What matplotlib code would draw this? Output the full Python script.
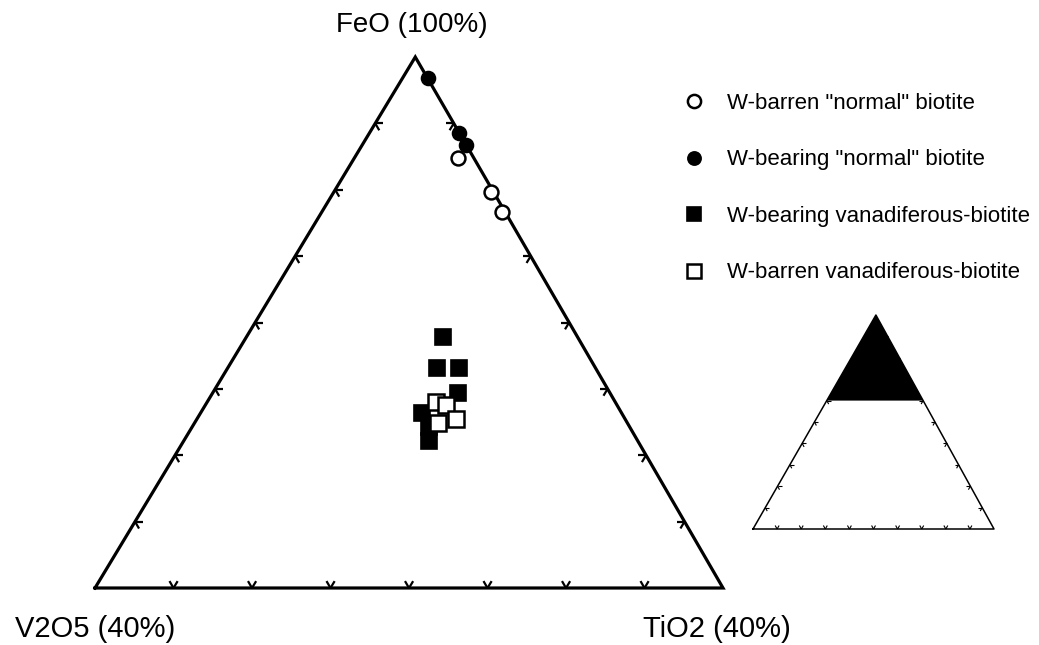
import matplotlib
matplotlib.use("Agg")
import matplotlib.pyplot as plt
import numpy as np

plt.rcParams['font.family'] = ['Liberation Sans', 'DejaVu Sans']

# compositions (wt%)
# W-barren "normal" biotite
feo_barren_norm = [92.4, 89.8, 88.3]
tio2_barren_norm = [6.6, 10.0, 11.5]
v2o5_barren_norm = [1.0, 0.2, 0.2]
# W-bearing "normal" biotite
feo_bearing_norm = [98.4, 94.3, 93.4]
tio2_bearing_norm = [1.6, 5.7, 6.6]
v2o5_bearing_norm = [0.0, 0.0, 0.0]
# W-bearing vanadiferous biotite
feo_bearing_vbio = [78.9, 76.6, 76.6, 74.7, 73.2, 72.1, 71.1]
tio2_bearing_vbio = [12.5, 13.3, 14.7, 15.6, 14.1, 15.1, 15.6]
v2o5_bearing_vbio = [8.6, 10.1, 8.7, 9.7, 12.7, 12.8, 13.3]
# W-barren vanadiferous biotite
feo_barren_vbio = [74.0, 73.8, 72.4, 72.7]
tio2_barren_vbio = [14.6, 15.3, 15.5, 16.5]
v2o5_barren_vbio = [11.4, 10.9, 12.1, 10.8]

feo_min = 60.0   # main diagram shows FeO 60-100 %
apex_x = 0.51    # apex is slightly right of centre in the original


def to_xy(feo, tio2, v2o5):
    feo, tio2, v2o5 = map(np.asarray, (feo, tio2, v2o5))
    tot = feo + tio2 + v2o5
    span = 100.0 - feo_min
    f = (100 * feo / tot - feo_min) / span
    t = (100 * tio2 / tot) / span
    return t + apex_x * f, f


def draw_ticks(ax, n, length, lw):
    L, R, A = np.array([0., 0.]), np.array([1., 0.]), np.array([apex_x, 1.])
    to_disp = ax.transData.transform
    to_data = ax.transData.inverted().transform

    def unit(p, q):
        d = to_disp(q) - to_disp(p)
        return d / np.hypot(*d)

    edges = [
        (L, R, unit(L, A), unit(R, A)),
        (L, A, unit(L, R), unit(A, R)),
        (R, A, unit(R, L), unit(A, L)),
    ]
    for p0, p1, d1, d2 in edges:
        for k in range(1, n):
            p = to_disp(p0 + k / n * (p1 - p0))
            for d in (d1, d2):
                q = to_data(np.array([p, p + d * length]))
                ax.plot(q[:, 0], q[:, 1], color='black', lw=lw,
                        solid_capstyle='butt', clip_on=False)


W, H = 1039, 645
fig = plt.figure(figsize=(W / 100, H / 100), dpi=100)

# main ternary
ax = fig.add_axes([95 / W, (H - 588) / H, 628 / W, 531 / H])
ax.set_xlim(0, 1)
ax.set_ylim(0, 1)
ax.axis('off')
ax.plot([0, 1, apex_x, 0], [0, 0, 1, 0], color='black', lw=2.3,
        solid_joinstyle='miter', clip_on=False)
draw_ticks(ax, 8, 8, 1.6)

x, y = to_xy(feo_bearing_vbio, tio2_bearing_vbio, v2o5_bearing_vbio)
h3, = ax.plot(x, y, 's', ms=11, mfc='black', mec='black', mew=1.2,
              ls='none', clip_on=False, label='W-bearing vanadiferous-biotite')
x, y = to_xy(feo_barren_vbio, tio2_barren_vbio, v2o5_barren_vbio)
h4, = ax.plot(x, y, 's', ms=11, mfc='white', mec='black', mew=1.8,
              ls='none', clip_on=False, label='W-barren vanadiferous-biotite')
x, y = to_xy(feo_barren_norm, tio2_barren_norm, v2o5_barren_norm)
h1, = ax.plot(x, y, 'o', ms=10, mfc='white', mec='black', mew=1.8,
              ls='none', clip_on=False, label='W-barren "normal" biotite')
x, y = to_xy(feo_bearing_norm, tio2_bearing_norm, v2o5_bearing_norm)
h2, = ax.plot(x, y, 'o', ms=10, mfc='black', mec='black', mew=1.2,
              ls='none', clip_on=False, label='W-bearing "normal" biotite')

ax.text(apex_x - 0.005, 1.035, 'FeO (100%)', fontsize=20,
        ha='center', va='bottom')
ax.text(0.0, -0.078, 'V2O5 (40%)', fontsize=21, ha='center', va='center')
ax.text(0.99, -0.078, 'TiO2 (40%)', fontsize=21, ha='center', va='center')

fig.legend(handles=[h1, h2, h3, h4], loc='upper left',
           bbox_to_anchor=(665 / W, 1 - 75 / H), frameon=False,
           fontsize=16, handlelength=1.0, handletextpad=1.0,
           labelspacing=1.6, markerscale=0.95, borderpad=0.3)

# inset showing the enlarged region
ins = fig.add_axes([753 / W, (H - 529) / H, 241 / W, 214 / H])
ins.set_xlim(0, 1)
ins.set_ylim(0, 1)
ins.axis('off')
cut = feo_min / 100.0
ins.fill([cut * apex_x, 1 - cut * (1 - apex_x), apex_x],
         [cut, cut, 1], color='black', lw=0)
ins.plot([0, 1, apex_x, 0], [0, 0, 1, 0], color='black', lw=1.1,
         clip_on=False)
draw_ticks(ins, 10, 4, 0.8)

fig.savefig('out.png', dpi=100)
